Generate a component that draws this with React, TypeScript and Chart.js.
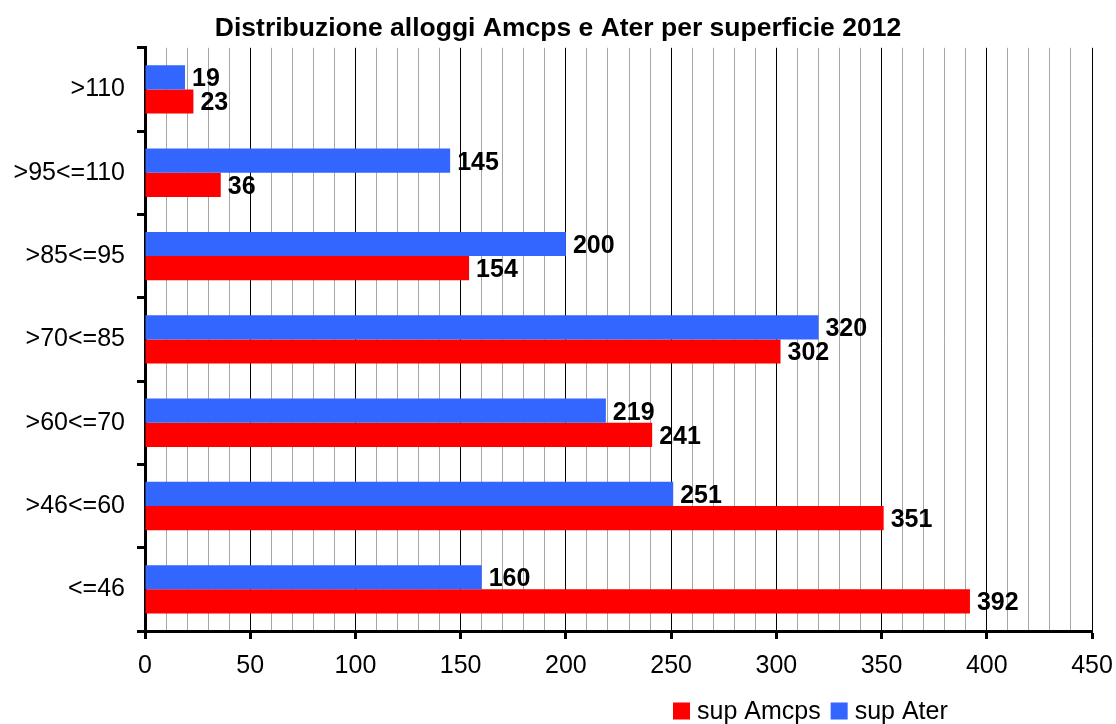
import React, { useEffect, useRef } from "react";
import { Chart, registerables } from "chart.js";

Chart.register(...registerables);

const categories = [">110", ">95<=110", ">85<=95", ">70<=85", ">60<=70", ">46<=60", "<=46"];
const supAter = [19, 145, 200, 320, 219, 251, 160];
const supAmcps = [23, 36, 154, 302, 241, 351, 392];
const titleText = "Distribuzione alloggi Amcps e Ater per superficie 2012";
const xMin = 0;
const xMax = 450;
const xMinorStep = 10;
const xMajorStep = 50;

const FONT = "'Liberation Sans', Arial, Helvetica, sans-serif";
const BLUE = "#3366FF";
const RED = "#FF0000";

const dataLabelPlugin = {
  id: "dataLabels",
  afterDatasetsDraw(chart: any) {
    const ctx = chart.ctx;
    ctx.save();
    ctx.font = `bold 25px ${FONT}`;
    ctx.fillStyle = "#000";
    ctx.textAlign = "left";
    ctx.textBaseline = "middle";
    chart.data.datasets.forEach((ds: any, di: number) => {
      const meta = chart.getDatasetMeta(di);
      meta.data.forEach((bar: any, i: number) => {
        ctx.fillText(String(ds.data[i]), bar.x + 7, bar.y + 2);
      });
    });
    ctx.restore();
  },
};

const customLegendPlugin = {
  id: "customLegend",
  afterDraw(chart: any) {
    const ctx = chart.ctx;
    ctx.save();
    ctx.font = `25px ${FONT}`;
    ctx.textBaseline = "middle";
    ctx.textAlign = "left";
    const items = [...chart.data.datasets].reverse();
    let x = 673;
    const yc = 711;
    const box = 17;
    items.forEach((ds: any) => {
      ctx.fillStyle = ds.backgroundColor;
      ctx.fillRect(x, yc - box / 2, box, box);
      x += box + 7;
      ctx.fillStyle = "#000";
      ctx.fillText(ds.label, x, yc + 1);
      x += ctx.measureText(ds.label).width + 10;
    });
    ctx.restore();
  },
};

export default function App() {
  const ref = useRef<HTMLCanvasElement | null>(null);

  useEffect(() => {
    if (!ref.current) return;
    const chart = new Chart(ref.current, {
      type: "bar",
      data: {
        labels: categories,
        datasets: [
          { label: "sup Ater", data: supAter, backgroundColor: BLUE, barPercentage: 1, categoryPercentage: 0.58 },
          { label: "sup Amcps", data: supAmcps, backgroundColor: RED, barPercentage: 1, categoryPercentage: 0.58 },
        ],
      },
      options: {
        indexAxis: "y",
        animation: false,
        responsive: false,
        layout: { padding: { left: 0, right: 0, top: 0, bottom: 43 } },
        plugins: {
          legend: { display: false },
          tooltip: { enabled: false },
          title: {
            display: true,
            text: titleText,
            color: "#000",
            font: { family: FONT, size: 26.5, weight: "bold" },
            padding: { top: 13, bottom: 3 },
          },
        },
        scales: {
          x: {
            type: "linear",
            min: xMin,
            max: xMax,
            ticks: {
              stepSize: xMinorStep,
              autoSkip: false,
              maxRotation: 0,
              color: "#000",
              padding: 12,
              font: { family: FONT, size: 25 },
              callback: (v: any) => (Number(v) % xMajorStep === 0 ? String(v) : ""),
            },
            grid: {
              color: (c: any) => (c.tick && c.tick.value % xMajorStep === 0 ? "#000" : "#a6a6a6"),
              lineWidth: 1,
              drawTicks: true,
              tickLength: 8,
              tickWidth: 3,
              tickColor: (c: any) => (c.tick && c.tick.value % xMajorStep === 0 ? "#000" : "rgba(0,0,0,0)"),
            },
            border: { display: true, color: "#000", width: 3 },
            afterFit: (s: any) => {
              s.height = 50;
              s.paddingLeft = 0;
              s.paddingRight = 24;
            },
          },
          y: {
            type: "category",
            ticks: {
              color: "#000",
              padding: 12,
              font: { family: FONT, size: 25 },
            },
            grid: {
              offset: true,
              drawOnChartArea: false,
              drawTicks: true,
              tickLength: 8,
              tickWidth: 3,
              tickColor: "#000",
            },
            border: { display: true, color: "#000", width: 3 },
            afterFit: (s: any) => {
              s.width = 145;
              s.paddingTop = 0;
              s.paddingBottom = 0;
            },
          },
        },
      },
      plugins: [dataLabelPlugin, customLegendPlugin],
    } as any);
    return () => chart.destroy();
  }, []);

  return (
    <div style={{ position: "fixed", left: 0, top: 0, width: 1116, height: 724, background: "#fff" }}>
      <canvas ref={ref} width={1116} height={724} />
    </div>
  );
}
